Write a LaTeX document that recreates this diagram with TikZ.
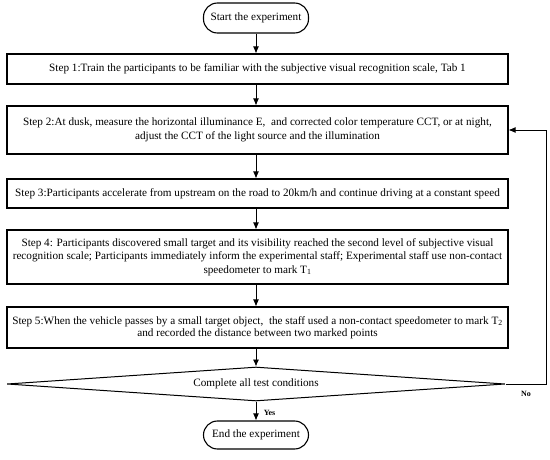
\documentclass[tikz,border=0pt]{standalone}
\usepackage{fontspec}
\setmainfont{Liberation Serif}
\usetikzlibrary{shapes.geometric,arrows.meta}
\begin{document}
\begin{tikzpicture}[x=1pt,y=-1pt,
  every node/.style={font=\fontsize{11.2}{13.5}\selectfont},
  stepbox/.style={draw,line width=1.1pt,rectangle,minimum width=501pt,inner xsep=0pt,inner ysep=2pt,align=center},
  termbox/.style={draw,line width=1.1pt,rectangle,rounded corners=14pt,minimum width=105pt,inner xsep=4pt,inner ysep=2pt},
  decbox/.style={draw,line width=1pt,diamond,aspect=15,minimum width=498pt,minimum height=34pt,inner sep=0pt},
  arr/.style={line width=0.9pt,-{Latex[length=7pt,width=6pt]}},
  lab/.style={font=\fontsize{8}{9}\selectfont\bfseries}]
\useasboundingbox (0,0) rectangle (550,460);
\node[termbox,minimum height=30pt] (start) at (256,18) {Start the experiment};
\node[stepbox,minimum height=30pt] (s1) at (257.5,69) {Step 1:Train the participants to be familiar with the subjective visual recognition scale, Tab 1};
\node[stepbox,minimum height=48pt,font=\fontsize{11.2}{14}\selectfont] (s2) at (257.5,130) {Step 2:At dusk, measure the horizontal illuminance E,\ \ and corrected color temperature CCT, or at night,\\ adjust the CCT of the light source and the illumination};
\node[stepbox,minimum height=29pt] (s3) at (257.5,193.5) {Step 3:Participants accelerate from upstream on the road to 20km/h and continue driving at a constant speed};
\node[stepbox,minimum height=54pt] (s4) at (257.5,257) {Step 4: Participants discovered small target and its visibility reached the second level of subjective visual\\ recognition scale; Participants immediately inform the experimental staff; Experimental staff use non-contact\\ speedometer to mark T\textsubscript{1}};
\node[stepbox,minimum height=41pt,font=\fontsize{11.2}{12.5}\selectfont] (s5) at (257.5,327.5) {Step 5:When the vehicle passes by a small target object,\ \ the staff used a non-contact speedometer to mark T\textsubscript{2}\\ and recorded the distance between two marked points};
\node[decbox] (dec) at (256,384) {Complete all test conditions};
\node[termbox,minimum height=28pt] (end) at (256,435) {End the experiment};
\coordinate (c1) at (546,384);
\coordinate (c2) at (546,130);
\draw[arr] (start.south) -- (start.south |- s1.north);
\draw[arr] (start.south |- s1.south) -- (start.south |- s2.north);
\draw[arr] (start.south |- s2.south) -- (start.south |- s3.north);
\draw[arr] (start.south |- s3.south) -- (start.south |- s4.north);
\draw[arr] (start.south |- s4.south) -- (start.south |- s5.north);
\draw[arr] (start.south |- s5.south) -- (dec.north);
\draw[arr] (dec.south) -- node[lab,right,xshift=4pt,yshift=-2pt] (yes) {Yes} (end.north);
\draw[arr] (dec.east) -- (c1) -- (c2) -- (s2.east);
\node[lab] (no) at (526,394) {No};
\end{tikzpicture}
\end{document}
